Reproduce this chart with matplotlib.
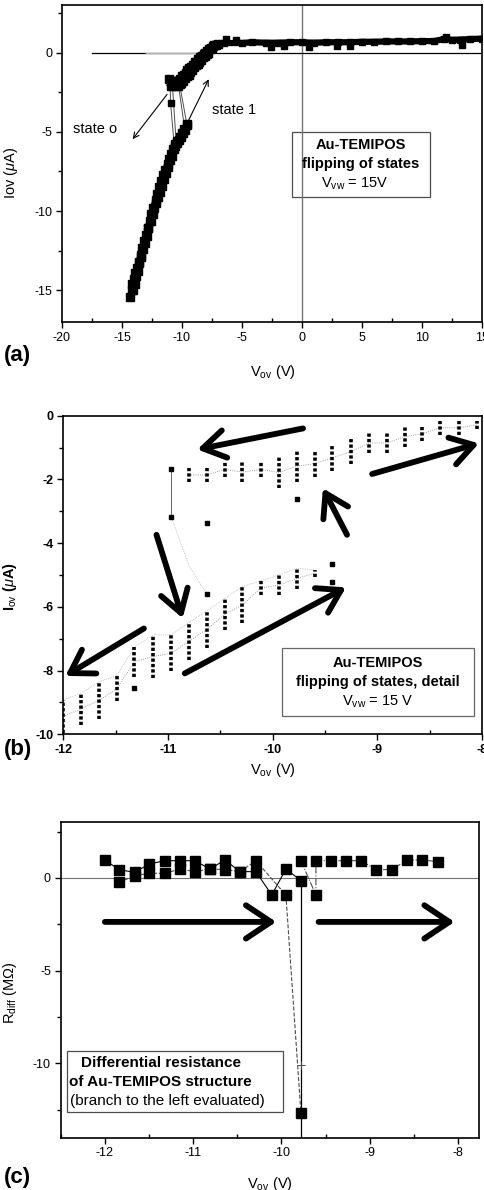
import numpy as np
import matplotlib
matplotlib.use('Agg')
import matplotlib.pyplot as plt

plt.rcParams['font.family'] = ['Liberation Sans', 'DejaVu Sans']
plt.rcParams['mathtext.fontset'] = 'custom'
plt.rcParams['mathtext.rm'] = 'Liberation Sans'
plt.rcParams['mathtext.it'] = 'Liberation Sans:italic'
plt.rcParams['mathtext.bf'] = 'Liberation Sans:bold'
plt.rcParams['axes.unicode_minus'] = False

# ---------------- panel (a) data ----------------
low1_x = [-14.3, -14.2, -14.15, -14.0, -13.9, -13.75, -13.6, -13.45, -13.3, -13.15, -13.0, -12.85, -12.7, -12.55,
          -12.4, -12.2, -12.05, -11.9, -11.75, -11.55, -11.4, -11.2, -11.05, -10.9, -10.75, -10.6, -10.4, -10.25,
          -10.05, -9.9, -9.75, -9.6]
low1_y = [-15.4, -15.0, -14.6, -14.3, -13.9, -13.6, -13.2, -12.8, -12.3, -11.9, -11.5, -11.1, -10.6, -10.2,
          -9.8, -9.3, -8.9, -8.5, -8.1, -7.7, -7.4, -7.0, -6.7, -6.4, -6.1, -5.9, -5.7, -5.5,
          -5.3, -5.1, -4.9, -4.6]
low2_x = [-14.1, -13.95, -13.8, -13.7, -13.55, -13.4, -13.25, -13.1, -12.95, -12.8, -12.6, -12.45, -12.3, -12.15,
          -12.0, -11.85, -11.7, -11.5, -11.35, -11.2, -11.0, -10.85, -10.7, -10.55, -10.4, -10.2, -10.0, -9.8, -9.6]
low2_y = [-15.0, -14.6, -14.1, -13.8, -13.3, -12.9, -12.4, -12.0, -11.6, -11.1, -10.6, -10.2, -9.8, -9.5,
          -9.1, -8.8, -8.4, -8.0, -7.6, -7.2, -6.8, -6.5, -6.1, -5.8, -5.6, -5.3, -5.1, -4.8, -4.5]
up1_x = [-11.05, -10.9, -10.75, -10.6, -10.45, -10.3, -10.15, -10.0, -9.85, -9.7, -9.55, -9.4, -9.25, -9.1,
         -8.95, -8.8, -8.65, -8.5, -8.35, -8.2, -8.05, -7.9, -7.75, -7.6, -7.45, -7.3, -7.15, -7.0]
up1_y = [-1.7, -1.8, -1.9, -1.8, -1.8, -1.9, -1.7, -1.5, -1.4, -1.3, -1.1, -1.0, -0.9, -0.8,
         -0.6, -0.6, -0.4, -0.3, -0.2, -0.1, 0.0, 0.1, 0.2, 0.3, 0.4, 0.5, 0.5, 0.55]
up2_x = [-10.95, -10.8, -10.65, -10.5, -10.35, -10.2, -10.05, -9.9, -9.75, -9.6, -9.45, -9.3, -9.15, -9.0,
         -8.85, -8.7, -8.55, -8.4, -8.25, -8.1, -7.95, -7.8, -7.65, -7.5]
up2_y = [-2.1, -2.0, -2.1, -2.0, -2.1, -2.0, -1.9, -1.8, -1.6, -1.5, -1.4, -1.2, -1.1, -0.9,
         -0.8, -0.7, -0.6, -0.5, -0.3, -0.2, -0.1, 0.0, 0.2, 0.3]
flat_x = [-7.2, -6.5, -5.0, -4.2, -3.0, -2.0, -1.0, 0.0, 1.0, 2.0, 3.0, 4.0, 5.0, 6.0, 7.0, 8.0, 9.0,
          10.0, 11.0, 11.8, 12.5, 13.2, 14.0, 15.0]
flat_y = [0.55, 0.6, 0.6, 0.65, 0.62, 0.62, 0.65, 0.65, 0.62, 0.65, 0.65, 0.65, 0.68, 0.68, 0.7, 0.7, 0.7,
          0.72, 0.72, 0.85, 0.8, 0.82, 0.85, 0.88]
bump_x = [-6.3, -5.5, -2.6, -1.5, 0.6, 2.9, 4.0, 12.0, 13.3]
bump_y = [0.85, 0.8, 0.35, 0.4, 0.35, 0.4, 0.4, 1.0, 0.5]
# hysteresis jumps between the branches
jump_x = [[-11.0, -10.95, -10.65], [-10.8, -10.5], [-10.3, -9.8], [-10.2, -9.6]]
jump_y = [[-1.8, -3.2, -5.8], [-2.0, -5.5], [-2.0, -4.7], [-2.0, -4.5]]

# ---------------- panel (b) data ----------------
# columns of repeated measurements: x, top, bottom
colU_x = [-10.8, -10.63, -10.46, -10.29, -10.11, -9.94, -9.77, -9.6, -9.43, -9.25, -9.08, -8.91, -8.74, -8.57, -8.4, -8.22, -8.05]
colU_top = [-1.65, -1.65, -1.47, -1.47, -1.47, -1.29, -1.1, -1.1, -0.92, -0.73, -0.55, -0.55, -0.35, -0.35, -0.16, -0.16, -0.16]
colU_bot = [-2.07, -2.07, -1.91, -2.07, -1.91, -2.28, -2.07, -1.91, -1.73, -1.52, -1.16, -1.16, -0.97, -0.78, -0.6, -0.6, -0.41]
colL_x = [-12.0, -11.83, -11.66, -11.49, -11.32, -11.14, -10.97, -10.8, -10.63, -10.46, -10.29, -10.11, -9.94, -9.77, -9.6]
colL_top = [-8.92, -8.71, -8.35, -8.17, -7.25, -6.88, -6.88, -6.5, -6.12, -5.75, -5.37, -5.18, -5.0, -4.79, -4.84]
colL_bot = [-9.97, -9.7, -9.53, -8.97, -8.19, -8.24, -8.03, -7.67, -7.3, -6.73, -6.52, -5.63, -5.63, -5.44, -5.05]
single_x = [-10.97, -10.97, -10.63, -9.77, -10.63, -11.32, -9.43, -9.43]
single_y = [-1.68, -3.17, -3.36, -2.62, -5.6, -8.56, -4.65, -5.21]
# (tail, head) of the thick arrows
arrows_b = [((-9.71, -0.40), (-10.72, -1.06)),
            ((-9.05, -1.83), (-8.03, -0.87)),
            ((-9.29, -3.74), (-9.52, -2.28)),
            ((-11.11, -3.74), (-10.86, -6.36)),
            ((-10.84, -8.09), (-9.30, -5.39)),
            ((-11.23, -6.68), (-11.98, -8.17))]

# ---------------- panel (c) data ----------------
ra_x = [-12.0, -11.84, -11.66, -11.5, -11.32, -11.15, -10.98, -10.81, -10.64, -10.47, -10.29, -10.11, -9.95, -9.78]
ra_y = [0.97, 0.45, 0.3, 0.75, 0.93, 0.93, 0.93, 0.48, 0.97, 0.34, 0.34, -0.92, 0.48, -0.14]
rb_x = [-11.84, -11.66, -11.5, -11.32, -11.15, -10.98, -10.81, -10.64, -10.47, -10.29, -9.95, -9.78]
rb_y = [-0.23, 0.12, 0.25, 0.25, 0.48, 0.34, 0.48, 0.45, 0.34, 0.93, -0.92, -12.66]
rc_x = [-9.78, -9.61, -9.61, -9.44, -9.27, -9.1, -8.93, -8.75, -8.58, -8.41, -8.23]
rc_y = [0.93, -0.92, 0.93, 0.93, 0.93, 0.93, 0.45, 0.45, 0.97, 0.97, 0.88]
arrows_c = [((-12.0, -2.37), (-10.06, -2.37)), ((-9.58, -2.37), (-8.04, -2.37))]


def style_axes(ax, xmaj, xmin, ymaj, ymin):
    ax.xaxis.set_major_locator(plt.MultipleLocator(xmaj))
    ax.xaxis.set_minor_locator(plt.MultipleLocator(xmin))
    ax.yaxis.set_major_locator(plt.MultipleLocator(ymaj))
    ax.yaxis.set_minor_locator(plt.MultipleLocator(ymin))
    ax.tick_params(which='major', direction='out', length=4, width=1, labelsize=9, pad=3)
    ax.tick_params(axis='x', which='minor', direction='in', length=3, width=1)
    ax.tick_params(axis='y', which='minor', direction='out', length=3, width=1)
    for s in ax.spines.values():
        s.set_linewidth(1.2)


fig = plt.figure(figsize=(4.84, 11.9), dpi=100)

# ---------------- (a) ----------------
ax = fig.add_axes([0.128, 0.7294, 0.868, 0.2664])
ax.set_xlim(-20, 15)
ax.set_ylim(-17, 3)
style_axes(ax, 5, 2.5, 5, 2.5)
ax.axvline(0, color='0.45', lw=1)
ax.plot([-17.5, 15], [0, 0], color='k', lw=0.9)
ax.plot([-13, -8], [0, 0], color='0.7', lw=1)
for jx, jy in zip(jump_x, jump_y):
    ax.plot(jx, jy, color='0.3', lw=0.7)
for xs, ys in [(low1_x, low1_y), (low2_x, low2_y), (up1_x, up1_y), (up2_x, up2_y)]:
    ax.plot(xs, ys, color='k', lw=4.5, marker='s', ms=5.5)
ax.plot(flat_x, flat_y, color='k', lw=4.5, marker='s', ms=4.5)
ax.plot(bump_x, bump_y, 's', color='k', ms=4.5)
ax.plot([-10.95], [-3.2], 's', color='k', ms=4)
ax.annotate('', xy=(-14.25, -5.6), xytext=(-11.1, -2.5),
            arrowprops=dict(arrowstyle='->', lw=0.8, color='k'))
ax.annotate('', xy=(-7.67, -1.53), xytext=(-9.6, -4.5),
            arrowprops=dict(arrowstyle='->', lw=0.8, color='k'))
ax.text(-19.1, -4.8, 'state o', fontsize=10.5, va='center', ha='left')
ax.text(-7.5, -3.6, 'state 1', fontsize=10.5, va='center', ha='left')
ax.add_patch(plt.Rectangle((-0.81, -9.14), 11.45, 4.12, fill=False, ec='0.3', lw=0.9))
ax.text(4.9, -5.84, 'Au-TEMIPOS', fontsize=10.5, fontweight='bold', ha='center', va='center')
ax.text(4.9, -7.06, 'flipping of states', fontsize=10.5, fontweight='bold', ha='center', va='center')
ax.text(4.4, -8.25, r'V$_{\rm vw}$ = 15V', fontsize=10.5, ha='center', va='center')
ax.set_xlabel(r'V$_{\rm ov}$ (V)', fontsize=10.5)
ax.set_ylabel(r'Iov ($\mu$A)', fontsize=10.5)
ax.xaxis.set_label_coords(0.503, -0.13)
ax.yaxis.set_label_coords(-0.1, 0.47)
fig.text(0.008, 1 - 356 / 1190, '(a)', fontsize=16, fontweight='bold', va='center')

# ---------------- (b) ----------------
ax = fig.add_axes([0.1308, 0.383, 0.8652, 0.2677])
ax.set_xlim(-12, -8)
ax.set_ylim(-10, 0)
style_axes(ax, 1, 0.5, 2, 1)
for lbl in ax.get_xticklabels() + ax.get_yticklabels():
    lbl.set_fontweight('bold')
cx_u = np.array(colU_x)
cx_l = np.array(colL_x)
ax.plot(cx_u, (np.array(colU_top) + np.array(colU_bot)) / 2, color='0.5', lw=0.6, ls=':')
ax.plot(cx_l, (np.array(colL_top) + np.array(colL_bot)) / 2, color='0.5', lw=0.6, ls=':')
ax.plot(cx_l, np.array(colL_top), color='0.6', lw=0.5, ls=':')
ax.plot([-10.97, -10.97], [-1.68, -3.17], color='0.4', lw=0.7)
ax.plot([-10.97, -10.8, -10.63], [-3.17, -4.7, -5.6], color='0.6', lw=0.5, ls=':')
ax.vlines(colU_x, colU_bot, colU_top, colors='k', lw=2.6, linestyles=(0, (0.9, 0.6)))
ax.vlines(colL_x, colL_bot, colL_top, colors='k', lw=2.6, linestyles=(0, (0.9, 0.6)))
ax.plot(single_x, single_y, 's', color='k', ms=3.2)
for tail, head in arrows_b:
    ax.annotate('', xy=head, xytext=tail,
                arrowprops=dict(arrowstyle='->,head_length=0.8,head_width=0.5', lw=4.2,
                                color='k', mutation_scale=20, shrinkA=0, shrinkB=0))
ax.add_patch(plt.Rectangle((-9.91, -9.42), 1.83, 2.12, fill=False, ec='0.4', lw=0.9))
ax.text(-9.0, -7.75, 'Au-TEMIPOS', fontsize=10.5, fontweight='bold', ha='center', va='center')
ax.text(-9.0, -8.35, 'flipping of states, detail', fontsize=10.5, fontweight='bold', ha='center', va='center')
ax.text(-9.0, -8.97, r'V$_{\rm vw}$ = 15 V', fontsize=10.5, ha='center', va='center')
ax.set_xlabel(r'V$_{\rm ov}$ (V)', fontsize=10.5)
ax.set_ylabel(r'I$_{\rm ov}$ ($\mu$A)', fontsize=10.5, fontweight='bold')
ax.xaxis.set_label_coords(0.5, -0.085)
ax.yaxis.set_label_coords(-0.105, 0.463)
fig.text(0.008, 1 - 750 / 1190, '(b)', fontsize=16, fontweight='bold', va='center')

# ---------------- (c) ----------------
ax = fig.add_axes([0.1254, 0.044, 0.8649, 0.265])
ax.set_xlim(-12.5, -7.76)
ax.set_ylim(-14, 3)
style_axes(ax, 1, 0.5, 5, 2.5)
ax.axhline(0, color='0.45', lw=0.8)
ax.plot(ra_x, ra_y, color='k', lw=0.8, marker='s', ms=6.5)
ax.plot([-9.78, -9.78], [-0.14, -14], color='k', lw=0.9)
ax.plot(rb_x, rb_y, color='0.3', lw=0.8, ls='--', marker='s', ms=6.5, mfc='k', mec='k')
ax.plot(rc_x, rc_y, color='0.3', lw=0.8, ls='-.', marker='s', ms=6.5, mfc='k', mec='k')
ax.plot([-9.78], [-10.1], '+', color='0.3', ms=6, mew=0.7)
for tail, head in arrows_c:
    ax.annotate('', xy=head, xytext=tail,
                arrowprops=dict(arrowstyle='->,head_length=0.9,head_width=0.6', lw=4.2,
                                color='k', mutation_scale=20, shrinkA=0, shrinkB=0))
ax.add_patch(plt.Rectangle((-12.43, -12.62), 2.45, 3.28, fill=False, ec='0.3', lw=0.9, zorder=3))
ax.text(-12.27, -10.0, 'Differential resistance', fontsize=11, fontweight='bold', ha='left', va='center')
ax.text(-12.41, -11.0, 'of Au-TEMIPOS structure', fontsize=11, fontweight='bold', ha='left', va='center')
ax.text(-12.4, -12.0, '(branch to the left evaluated)', fontsize=11, ha='left', va='center')
ax.set_xlabel(r'V$_{\rm ov}$ (V)', fontsize=10.5)
ax.set_ylabel(r'R$_{\rm diff}$ (M$\Omega$)', fontsize=10.5)
ax.xaxis.set_label_coords(0.5, -0.12)
ax.yaxis.set_label_coords(-0.1, 0.459)
fig.text(0.008, 1 - 1178 / 1190, '(c)', fontsize=16, fontweight='bold', va='center')

fig.savefig('out.png', dpi=100, facecolor='white')
